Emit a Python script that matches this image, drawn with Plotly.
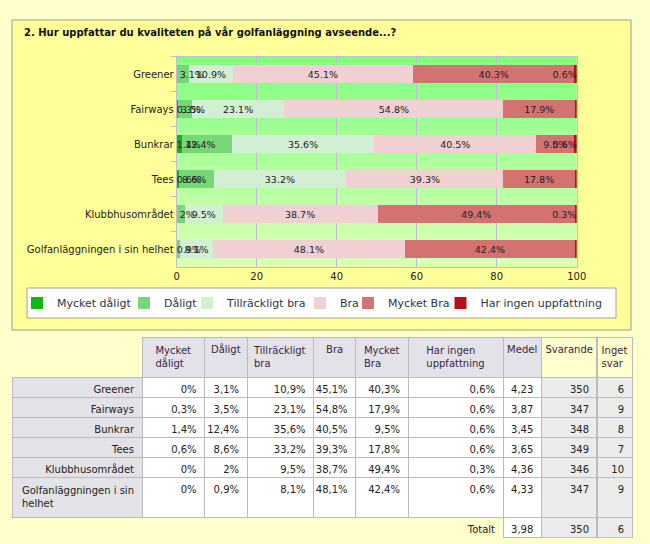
import plotly.graph_objects as go

# chart data
categories = ["Greener", "Fairways", "Bunkrar", "Tees", "Klubbhusområdet",
              "Golfanläggningen i sin helhet"]
series_names = ["Mycket dåligt", "Dåligt", "Tillräckligt bra", "Bra",
                "Mycket Bra", "Har ingen uppfattning"]
mycket_daligt = [0, 0.3, 1.4, 0.6, 0, 0]
daligt = [3.1, 3.5, 12.4, 8.6, 2, 0.9]
tillrackligt_bra = [10.9, 23.1, 35.6, 33.2, 9.5, 8.1]
bra = [45.1, 54.8, 40.5, 39.3, 38.7, 48.1]
mycket_bra = [40.3, 17.9, 9.5, 17.8, 49.4, 42.4]
ingen_uppfattning = [0.6, 0.6, 0.6, 0.6, 0.3, 0.6]

# table data
medel = [4.23, 3.87, 3.45, 3.65, 4.36, 4.33]
svarande = [350, 347, 348, 349, 346, 347]
inget_svar = [6, 9, 8, 7, 10, 9]
totalt_medel = 3.98
totalt_svarande = 350
totalt_inget_svar = 6
table_headers = ["", "Mycket<br>dåligt", "Dåligt", "Tillräckligt<br>bra", "Bra",
                 "Mycket<br>Bra", "Har ingen<br>uppfattning", "Medel", "Svarande",
                 "Inget<br>svar"]
table_row_labels = ["Greener", "Fairways", "Bunkrar", "Tees", "Klubbhusområdet",
                    "Golfanläggningen i sin<br>helhet"]

title = "2. Hur uppfattar du kvaliteten på vår golfanläggning avseende...?"

colors = ["#14B514", "#77D677", "#D3EFD3", "#F0D0D2", "#D47272", "#B41414"]
text_anchor = ["start", "start", "middle", "middle", "middle", "end"]
FONT = "DejaVu Sans"
W, H = 650, 544


def px(x):
    return x / W


def py(y):
    return 1 - y / H


def pct(v):
    return f"{v:g}%".replace(".", ",")


series = [mycket_daligt, daligt, tillrackligt_bra, bra, mycket_bra, ingen_uppfattning]
legend_text_x = [57, 164, 227, 340, 388, 480.5]

fig = go.Figure()
for i, (name, vals, col) in enumerate(zip(series_names, series, colors)):
    fig.add_trace(go.Bar(
        y=categories, x=vals, name=name, orientation="h",
        marker=dict(color=col, line=dict(width=0)),
        width=0.5, hoverinfo="skip",
        legend="legend" if i == 0 else f"legend{i + 1}",
    ))

# same stack on an overlaid axis pair, only for the labels (kept above all bars)
for i, vals in enumerate(series):
    fig.add_trace(go.Bar(
        y=categories, x=vals, orientation="h", xaxis="x2", yaxis="y2",
        marker=dict(color="rgba(0,0,0,0)", line=dict(width=0)),
        text=[f"{v:g}%" for v in vals],
        textposition="inside", insidetextanchor=text_anchor[i], textangle=0,
        textfont=dict(family=FONT, size=9.5, color="#222222"),
        width=0.5, hoverinfo="skip", cliponaxis=False, showlegend=False,
    ))

# table below the chart
n = len(categories)
clear = "rgba(0,0,0,0)"
grid = "#BBBBBB"
cell_vals = [table_row_labels + [""]]
for vals in series[:5]:
    cell_vals.append([pct(v) for v in vals] + [""])
cell_vals.append([pct(v) for v in ingen_uppfattning] + ["Totalt"])
cell_vals.append([f"{m:.2f}".replace(".", ",") for m in medel]
                 + [f"{totalt_medel:.2f}".replace(".", ",")])
cell_vals.append([str(s) for s in svarande] + [str(totalt_svarande)])
cell_vals.append([str(s) for s in inget_svar] + [str(totalt_inget_svar)])

cell_fill = ([["#E2E2E8"] * n + [clear]]
             + [["white"] * n + [clear] for _ in range(6)]
             + ["white", "#EBEBEB", "#EBEBEB"])
cell_line = [[grid] * n + [clear] for _ in range(7)] + [grid] * 3

fig.add_trace(go.Table(
    domain=dict(x=[px(12), px(632)], y=[0, py(337)]),
    columnwidth=[130, 62.6, 42.4, 66.6, 42, 52.4, 95, 38.3, 55.7, 35],
    header=dict(
        values=table_headers, height=33, align="center",
        fill=dict(color=[clear] + ["#E2E2E8"] * 7 + ["#FFFFCC"] * 2),
        line=dict(color=[clear] + [grid] * 9, width=1),
        font=dict(family=FONT, size=10, color="#3C2446"),
    ),
    cells=dict(
        values=cell_vals, height=20, align="right",
        fill=dict(color=cell_fill),
        line=dict(color=cell_line, width=1),
        font=dict(family=FONT, size=10, color="#222222"),
    ),
))

# panel, legend box and green gradient background
shapes = [
    dict(type="rect", xref="paper", yref="paper", x0=px(12), x1=px(631),
         y0=py(330), y1=py(20), fillcolor="#FFFF99",
         line=dict(color="#999999", width=1), layer="below"),
    dict(type="rect", xref="paper", yref="paper", x0=px(27), x1=px(616),
         y0=py(318), y1=py(288), fillcolor="white",
         line=dict(color="#A0A0A0", width=1), layer="below"),
]
steps = 36
top, bot = (128, 255, 128), (218, 255, 182)
for k in range(steps):
    t = k / (steps - 1)
    c = tuple(round(a + (b - a) * t) for a, b in zip(top, bot))
    y0 = -0.5 + 6 * k / steps
    shapes.append(dict(type="rect", xref="x domain", yref="y", x0=0, x1=1,
                       y0=y0, y1=y0 + 6 / steps + 0.01,
                       fillcolor=f"rgb{c}", line=dict(width=0), layer="below"))

legends = {}
for i, tx in enumerate(legend_text_x):
    key = "legend" if i == 0 else f"legend{i + 1}"
    legends[key] = dict(
        x=px(tx - 40), y=py(303), xanchor="left", yanchor="middle",
        orientation="h", bgcolor=clear, borderwidth=0,
        font=dict(family=FONT, size=11, color="#333344"),
    )

x_domain = [px(176.7), px(576.7)]
y_domain = [py(266.7), py(56.5)]
fig.update_layout(
    width=W, height=H, autosize=False,
    margin=dict(l=0, r=0, t=0, b=0),
    paper_bgcolor="#FFFFCC", plot_bgcolor=clear,
    barmode="stack", bargap=0.5, showlegend=True,
    uniformtext=dict(minsize=9.5, mode="show"),
    annotations=[dict(text=f"<b>{title}</b>", x=px(22), y=py(32),
                      xref="paper", yref="paper", xanchor="left",
                      yanchor="middle", showarrow=False,
                      font=dict(family=FONT, size=10, color="#111111"))],
    xaxis=dict(domain=x_domain, range=[0, 100],
               tickvals=[0, 20, 40, 60, 80, 100], showgrid=True,
               gridcolor="#C4BCD4", showline=True, linecolor="#C4BCD4",
               mirror=True, zeroline=False, fixedrange=True, automargin=False,
               tickfont=dict(family=FONT, size=10, color="#222222")),
    yaxis=dict(domain=y_domain, range=[5.5, -0.5],
               showline=True, linecolor="#C4BCD4", mirror=True,
               ticks="outside", ticklen=5, tickcolor="#C4BCD4",
               tickson="boundaries", showgrid=False, fixedrange=True,
               automargin=False,
               tickfont=dict(family=FONT, size=10, color="#222222")),
    xaxis2=dict(overlaying="x", range=[0, 100], visible=False,
                fixedrange=True, automargin=False),
    yaxis2=dict(overlaying="y", range=[5.5, -0.5], visible=False,
                fixedrange=True, automargin=False),
    shapes=shapes,
    **legends,
)

fig.write_html("out.html", config={"displayModeBar": False},
               post_script="document.body.style.margin='0';"
                           "document.body.style.padding='0';")
